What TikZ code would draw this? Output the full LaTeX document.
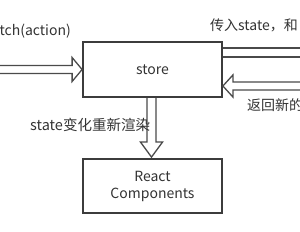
\documentclass[tikz,border=0pt]{standalone}
\usepackage{fontspec}
\setmainfont{Noto Sans CJK SC}
\usetikzlibrary{calc}
\definecolor{boxcol}{HTML}{3C3C3C}
\definecolor{arrcol}{HTML}{4A4A4A}
\definecolor{txt}{HTML}{333333}
\begin{document}
\begin{tikzpicture}[x=1pt,y=-1pt,
  box/.style={draw=boxcol, line width=1.8pt, minimum width=139pt, minimum height=55pt,
    inner sep=0pt, font=\fontsize{14}{17}\selectfont, text=txt, align=center},
  hollow/.style={draw=arrcol, line width=1.3pt, line join=miter},
  lbl/.style={font=\fontsize{14}{16}\selectfont, text=txt, inner sep=0pt}]
\fill[white] (0,0) rectangle (300,232);
\useasboundingbox (0,0) rectangle (300,232);

\node[box] (store) at (152.5,69.5) {store};
\node[box, minimum height=54pt] (react) at (152.5,186) {React\\Components};

% left incoming arrow
\coordinate (tipL) at (store.west);
\draw[hollow] ($(tipL)+(-90,-4)$) -- ($(tipL)+(-10,-4)$) -- ($(tipL)+(-10,-12)$)
  -- (tipL) -- ($(tipL)+(-10,12)$) -- ($(tipL)+(-10,4)$) -- ($(tipL)+(-90,4)$);

% right outgoing shaft
\draw[hollow] ($(store.east)+(0,-21.5)$) -- ++(90,0);
\draw[hollow] ($(store.east)+(0,-12.5)$) -- ++(90,0);

% right incoming arrow
\coordinate (tipR) at ($(store.east)+(0,16.5)$);
\draw[hollow] ($(tipR)+(90,-4)$) -- ($(tipR)+(10,-4)$) -- ($(tipR)+(10,-11)$)
  -- (tipR) -- ($(tipR)+(10,11)$) -- ($(tipR)+(10,4)$) -- ($(tipR)+(90,4)$);

% down arrow
\coordinate (dtop) at ($(store.south)+(-1,0)$);
\coordinate (dtip) at ($(react.north)+(-1,-1)$);
\draw[hollow] ($(dtop)+(-4.5,0)$) -- ($(dtip)+(-4.5,-15)$) -- ($(dtip)+(-11,-15)$)
  -- (dtip) -- ($(dtip)+(11,-15)$) -- ($(dtip)+(4.5,-15)$) -- ($(dtop)+(4.5,0)$);

% labels
\node[lbl, anchor=east] (l1) at (71,31) {tch(action)};
\node[lbl, anchor=west] (l2) at (210,25) {传入state，和};
\node[lbl, anchor=west] (l3) at (247,105) {返回新的};
\node[lbl, anchor=west, font=\fontsize{14.5}{16}\selectfont] (l4) at (30,125) {state变化重新渲染};
\end{tikzpicture}
\end{document}
